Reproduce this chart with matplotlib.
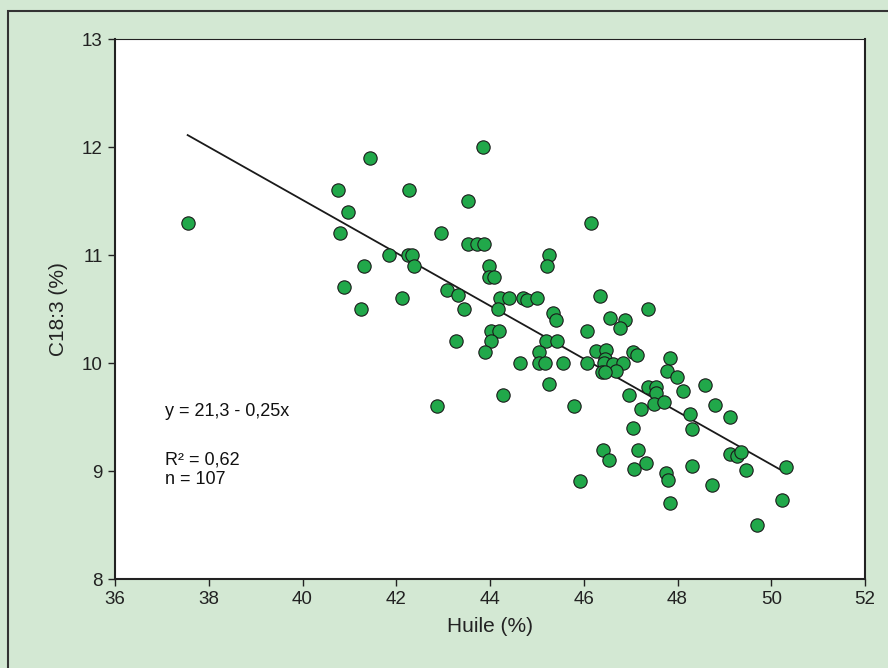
import matplotlib
matplotlib.use("Agg")
import matplotlib.pyplot as plt
import numpy as np
from matplotlib.patches import Rectangle

# Huile (%) / C18:3 (%)
huile = [37.55, 40.75, 40.96, 40.80, 40.88, 41.24, 41.45, 42.27, 43.84, 43.53,
         46.16, 42.95, 43.53, 43.73, 43.88, 41.85, 42.24, 42.33, 42.38, 41.31,
         45.25, 45.22, 43.98, 43.98, 44.09, 42.13, 43.09, 43.32, 43.45, 44.21,
         44.40, 44.70, 44.78, 45.00, 44.18, 45.35, 45.41, 44.03, 44.20, 44.03,
         43.28, 43.89, 45.19, 45.42, 45.04, 46.06, 44.65, 45.04, 45.17, 45.56,
         46.06, 42.87, 44.27, 45.25, 45.80, 45.92, 46.35, 47.38, 46.57, 46.87,
         46.77, 46.26, 46.47, 46.45, 46.43, 46.63, 46.84, 46.69, 46.39, 46.46,
         47.06, 47.13, 47.85, 47.78, 47.99, 48.12, 48.58, 47.38, 47.55, 47.55,
         47.50, 47.72, 46.97, 47.22, 48.27, 48.80, 49.13, 48.31, 47.06, 46.40,
         46.54, 47.16, 47.32, 47.08, 48.30, 47.75, 47.79, 49.13, 49.26, 49.35,
         48.74, 47.85, 49.47, 50.31, 50.22, 49.69]
c183 = [11.30, 11.60, 11.40, 11.20, 10.70, 10.50, 11.90, 11.60, 12.00, 11.50,
        11.30, 11.20, 11.10, 11.10, 11.10, 11.00, 11.00, 11.00, 10.90, 10.90,
        11.00, 10.90, 10.90, 10.80, 10.80, 10.60, 10.68, 10.63, 10.50, 10.60,
        10.60, 10.60, 10.58, 10.60, 10.50, 10.46, 10.40, 10.30, 10.30, 10.20,
        10.20, 10.10, 10.20, 10.20, 10.10, 10.30, 10.00, 10.00, 10.00, 10.00,
        10.00, 9.60, 9.70, 9.81, 9.60, 8.91, 10.62, 10.50, 10.42, 10.40,
        10.32, 10.11, 10.12, 10.04, 10.00, 9.99, 10.00, 9.93, 9.92, 9.92,
        10.10, 10.07, 10.05, 9.93, 9.87, 9.74, 9.80, 9.78, 9.78, 9.72,
        9.62, 9.64, 9.70, 9.57, 9.53, 9.61, 9.50, 9.39, 9.40, 9.19,
        9.10, 9.19, 9.07, 9.02, 9.05, 8.98, 8.92, 9.16, 9.14, 9.18,
        8.87, 8.70, 9.01, 9.04, 8.73, 8.50]

# droite de régression
a, b = 21.31, -0.245
x_fit = [37.55, 50.22]

bg = "#d3e8d3"
fig = plt.figure(figsize=(8.88, 6.68), dpi=100, facecolor=bg)
# cadre : seuls les bords gauche et haut sont visibles dans l'image
fig.patches.append(Rectangle((8 / 888, -0.1), 1.0, 1.1 - 11 / 668,
                             transform=fig.transFigure, fill=False,
                             edgecolor="#333333", linewidth=1.5))

ax = fig.add_axes([115 / 888, 1 - 579 / 668, 750 / 888, 540 / 668])
ax.set_facecolor("white")

xf = np.array(x_fit)
ax.plot(xf, a + b * xf, color="#1a1a1a", linewidth=1.3, zorder=2)
ax.scatter(huile, c183, s=92, color="#21a84a", edgecolors="#1a1a1a",
           linewidths=0.8, zorder=3)

ax.set_xlim(36, 52)
ax.set_ylim(8, 13)
ax.set_xticks(np.arange(36, 53, 2))
ax.set_yticks(np.arange(8, 14, 1))

font = "Liberation Sans"
for lab in ax.get_xticklabels() + ax.get_yticklabels():
    lab.set_fontfamily(font)
ax.tick_params(direction="out", length=5, width=1, colors="#222222",
               labelsize=13.5, pad=4)
for sp in ax.spines.values():
    sp.set_color("#222222")
    sp.set_linewidth(1.5)
ax.spines["top"].set_linewidth(0.8)

ax.set_xlabel("Huile (%)", fontsize=15, family=font, color="#222222", labelpad=6)
ax.set_ylabel("C18:3 (%)", fontsize=15, family=font, color="#222222", labelpad=10)

ax.text(37.07, 9.55, "y = 21,3 - 0,25x", fontsize=13, family=font,
        color="#111111", va="center")
ax.text(37.07, 9.10, "R² = 0,62", fontsize=13, family=font,
        color="#111111", va="center")
ax.text(37.07, 8.92, "n = 107", fontsize=13, family=font,
        color="#111111", va="center")

fig.savefig("out.png", dpi=100, facecolor=bg)
